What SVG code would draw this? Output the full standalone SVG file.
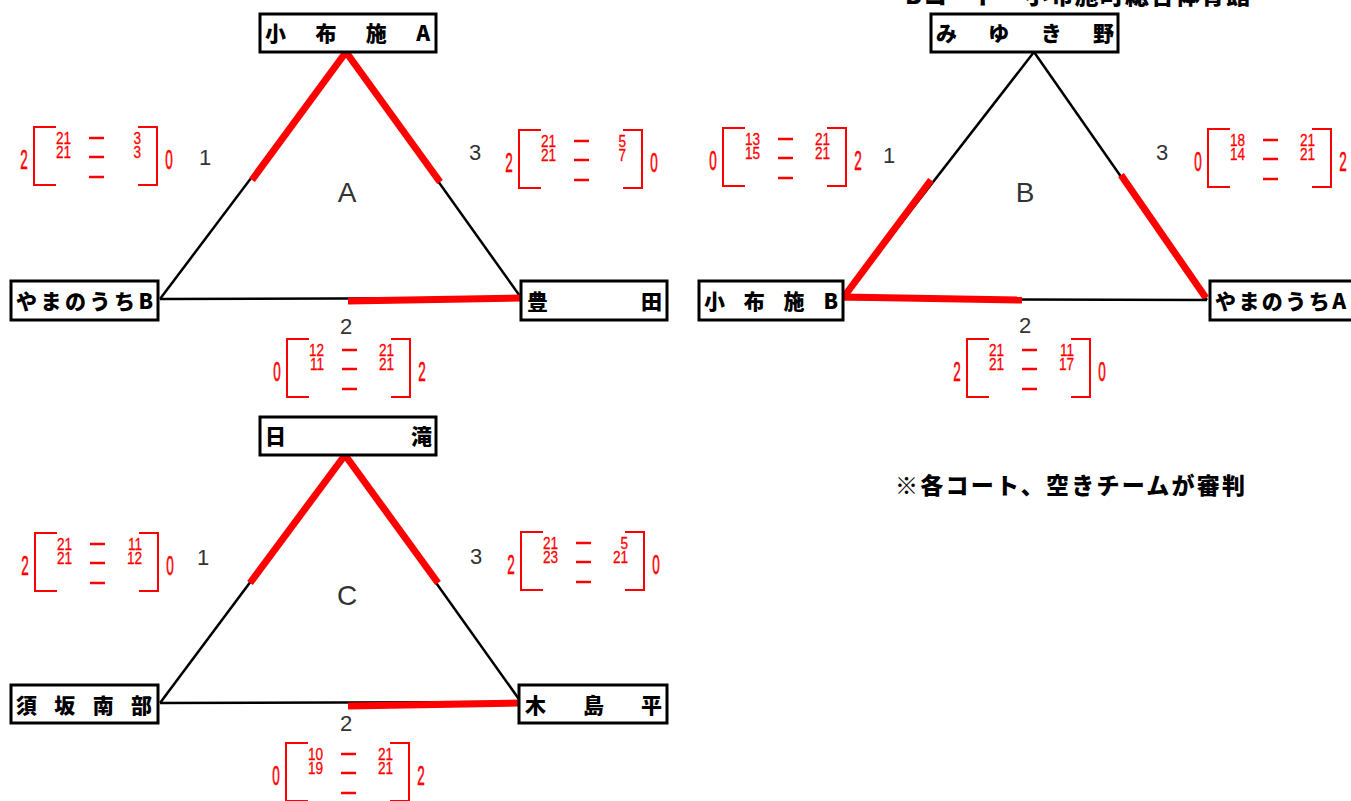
<svg xmlns="http://www.w3.org/2000/svg" width="1351" height="801" viewBox="0 0 1351 801">
<style>
.box{fill:#fff;stroke:#000;stroke-width:3}
.nt{font-family:"Noto Sans CJK JP","Liberation Sans",sans-serif;font-weight:900;font-size:21px;fill:#000}
.bl{stroke:#000;stroke-width:2.5;fill:none}
.rd{stroke:#f00;stroke-width:7;fill:none}
.lbl{font-family:"Liberation Sans","Noto Sans",sans-serif;fill:#333;text-anchor:middle}
.br{stroke:#f00;stroke-width:2;fill:none}
.ds{stroke:#f00;stroke-width:2.5}
.sc{font-family:"Liberation Sans",sans-serif;fill:#f00;stroke:#f00;stroke-width:0.6;font-size:27px;text-anchor:middle}
.in{font-family:"Liberation Sans",sans-serif;fill:#f00;stroke:#f00;stroke-width:0.3;font-size:17px;text-anchor:end}
</style>
<defs>
<g id="frame">
<path class="br" d="M22,0 H0 V58 H22 M104,0 H123 V58 H104"/>
<line class="ds" x1="55" y1="11" x2="70" y2="11"/>
<line class="ds" x1="55" y1="30" x2="70" y2="30"/>
<line class="ds" x1="55" y1="50" x2="70" y2="50"/>
</g>
</defs>

<text x="905" y="4" font-family="Noto Sans CJK JP, sans-serif" font-weight="900" font-size="24" textLength="345" lengthAdjust="spacing">Bコート・小布施町総合体育館</text>

<g id="connectors">
<line class="bl" x1="346" y1="52" x2="160" y2="299"/>
<line class="rd" x1="346" y1="52" x2="252" y2="180"/>
<line class="bl" x1="346" y1="52" x2="522" y2="299"/>
<line class="rd" x1="346" y1="52" x2="440" y2="182"/>
<line class="bl" x1="160" y1="299" x2="522" y2="298"/>
<line class="rd" x1="348" y1="301" x2="522" y2="298"/>
<line class="bl" x1="1034" y1="52" x2="843" y2="298"/>
<line class="rd" x1="931" y1="180" x2="843" y2="298"/>
<line class="bl" x1="1034" y1="52" x2="1207" y2="300"/>
<line class="rd" x1="1121" y1="175" x2="1206" y2="298"/>
<line class="bl" x1="843" y1="299" x2="1207" y2="300"/>
<line class="rd" x1="843" y1="297" x2="1022" y2="300"/>
<line class="bl" x1="345" y1="455" x2="160" y2="703"/>
<line class="rd" x1="345" y1="455" x2="250" y2="583"/>
<line class="bl" x1="345" y1="455" x2="521" y2="702"/>
<line class="rd" x1="345" y1="455" x2="438" y2="583"/>
<line class="bl" x1="160" y1="703" x2="521" y2="702"/>
<line class="rd" x1="348" y1="706" x2="521" y2="703"/>
</g>

<g id="nodeA1"><rect class="box" x="260" y="14" width="176" height="38"/><text class="nt" x="265" y="41" textLength="165" lengthAdjust="spacing">小布施A</text></g>
<g id="nodeA2"><rect class="box" x="11" y="281" width="147" height="39"/><text class="nt" x="16" y="309" textLength="137" lengthAdjust="spacing">やまのうちB</text></g>
<g id="nodeA3"><rect class="box" x="521" y="281" width="146" height="39"/><text class="nt" x="527" y="309" textLength="135" lengthAdjust="spacing">豊田</text></g>

<g id="nodeB1"><rect class="box" x="931" y="14" width="187" height="38"/><text class="nt" x="936" y="41" textLength="178" lengthAdjust="spacing">みゆき野</text></g>
<g id="nodeB2"><rect class="box" x="699" y="281" width="144" height="39"/><text class="nt" x="704" y="309" textLength="134" lengthAdjust="spacing">小布施B</text></g>
<g id="nodeB3"><rect class="box" x="1210" y="281" width="145" height="39"/><text class="nt" x="1215" y="309" textLength="131" lengthAdjust="spacing">やまのうちA</text></g>

<g id="nodeC1"><rect class="box" x="260" y="417" width="176" height="38"/><text class="nt" x="265" y="444" textLength="167" lengthAdjust="spacing">日滝</text></g>
<g id="nodeC2"><rect class="box" x="11" y="685" width="147" height="38"/><text class="nt" x="16" y="713" textLength="136" lengthAdjust="spacing">須坂南部</text></g>
<g id="nodeC3"><rect class="box" x="519" y="685" width="148" height="38"/><text class="nt" x="525" y="713" textLength="137" lengthAdjust="spacing">木島平</text></g>

<g id="labels">
<text class="lbl" x="347" y="202" font-size="28">A</text>
<text class="lbl" x="205" y="165" font-size="22">1</text>
<text class="lbl" x="475" y="160" font-size="22">3</text>
<text class="lbl" x="346" y="334" font-size="22">2</text>
<text class="lbl" x="1025" y="202" font-size="28">B</text>
<text class="lbl" x="889" y="163" font-size="22">1</text>
<text class="lbl" x="1162" y="160" font-size="22">3</text>
<text class="lbl" x="1025" y="333" font-size="22">2</text>
<text class="lbl" x="347" y="605" font-size="28">C</text>
<text class="lbl" x="203" y="565" font-size="22">1</text>
<text class="lbl" x="476" y="564" font-size="22">3</text>
<text class="lbl" x="346" y="731" font-size="22">2</text>
</g>

<g id="scoreA1" transform="translate(34,127)">
<use href="#frame"/>
<text class="sc" transform="translate(-10,42) scale(0.5,1)">2</text>
<text class="sc" transform="translate(135,42) scale(0.5,1)">0</text>
<text class="in" transform="translate(37,0) scale(0.8,1)"><tspan x="0" y="17">21</tspan><tspan x="0" y="31">21</tspan></text>
<text class="in" transform="translate(107,0) scale(0.8,1)"><tspan x="0" y="17">3</tspan><tspan x="0" y="31">3</tspan></text>
</g>
<g id="scoreA3" transform="translate(519,130)">
<use href="#frame"/>
<text class="sc" transform="translate(-10,42) scale(0.5,1)">2</text>
<text class="sc" transform="translate(135,42) scale(0.5,1)">0</text>
<text class="in" transform="translate(37,0) scale(0.8,1)"><tspan x="0" y="17">21</tspan><tspan x="0" y="31">21</tspan></text>
<text class="in" transform="translate(107,0) scale(0.8,1)"><tspan x="0" y="17">5</tspan><tspan x="0" y="31">7</tspan></text>
</g>
<g id="scoreA2" transform="translate(287,339)">
<use href="#frame"/>
<text class="sc" transform="translate(-10,42) scale(0.5,1)">0</text>
<text class="sc" transform="translate(135,42) scale(0.5,1)">2</text>
<text class="in" transform="translate(37,0) scale(0.8,1)"><tspan x="0" y="17">12</tspan><tspan x="0" y="31">11</tspan></text>
<text class="in" transform="translate(107,0) scale(0.8,1)"><tspan x="0" y="17">21</tspan><tspan x="0" y="31">21</tspan></text>
</g>
<g id="scoreB1" transform="translate(723,128)">
<use href="#frame"/>
<text class="sc" transform="translate(-10,42) scale(0.5,1)">0</text>
<text class="sc" transform="translate(135,42) scale(0.5,1)">2</text>
<text class="in" transform="translate(37,0) scale(0.8,1)"><tspan x="0" y="17">13</tspan><tspan x="0" y="31">15</tspan></text>
<text class="in" transform="translate(107,0) scale(0.8,1)"><tspan x="0" y="17">21</tspan><tspan x="0" y="31">21</tspan></text>
</g>
<g id="scoreB3" transform="translate(1208,129)">
<use href="#frame"/>
<text class="sc" transform="translate(-10,42) scale(0.5,1)">0</text>
<text class="sc" transform="translate(135,42) scale(0.5,1)">2</text>
<text class="in" transform="translate(37,0) scale(0.8,1)"><tspan x="0" y="17">18</tspan><tspan x="0" y="31">14</tspan></text>
<text class="in" transform="translate(107,0) scale(0.8,1)"><tspan x="0" y="17">21</tspan><tspan x="0" y="31">21</tspan></text>
</g>
<g id="scoreB2" transform="translate(967,339)">
<use href="#frame"/>
<text class="sc" transform="translate(-10,42) scale(0.5,1)">2</text>
<text class="sc" transform="translate(135,42) scale(0.5,1)">0</text>
<text class="in" transform="translate(37,0) scale(0.8,1)"><tspan x="0" y="17">21</tspan><tspan x="0" y="31">21</tspan></text>
<text class="in" transform="translate(107,0) scale(0.8,1)"><tspan x="0" y="17">11</tspan><tspan x="0" y="31">17</tspan></text>
</g>
<g id="scoreC1" transform="translate(35,533)">
<use href="#frame"/>
<text class="sc" transform="translate(-10,42) scale(0.5,1)">2</text>
<text class="sc" transform="translate(135,42) scale(0.5,1)">0</text>
<text class="in" transform="translate(37,0) scale(0.8,1)"><tspan x="0" y="17">21</tspan><tspan x="0" y="31">21</tspan></text>
<text class="in" transform="translate(107,0) scale(0.8,1)"><tspan x="0" y="17">11</tspan><tspan x="0" y="31">12</tspan></text>
</g>
<g id="scoreC3" transform="translate(521,532)">
<use href="#frame"/>
<text class="sc" transform="translate(-10,42) scale(0.5,1)">2</text>
<text class="sc" transform="translate(135,42) scale(0.5,1)">0</text>
<text class="in" transform="translate(37,0) scale(0.8,1)"><tspan x="0" y="17">21</tspan><tspan x="0" y="31">23</tspan></text>
<text class="in" transform="translate(107,0) scale(0.8,1)"><tspan x="0" y="17">5</tspan><tspan x="0" y="31">21</tspan></text>
</g>
<g id="scoreC2" transform="translate(286,743)">
<use href="#frame"/>
<text class="sc" transform="translate(-10,42) scale(0.5,1)">0</text>
<text class="sc" transform="translate(135,42) scale(0.5,1)">2</text>
<text class="in" transform="translate(37,0) scale(0.8,1)"><tspan x="0" y="17">10</tspan><tspan x="0" y="31">19</tspan></text>
<text class="in" transform="translate(107,0) scale(0.8,1)"><tspan x="0" y="17">21</tspan><tspan x="0" y="31">21</tspan></text>
</g>

<text id="note" x="895" y="494" font-family="Noto Sans CJK JP, sans-serif" font-weight="900" font-size="23" textLength="350" lengthAdjust="spacing">※各コート、空きチームが審判</text>
</svg>
